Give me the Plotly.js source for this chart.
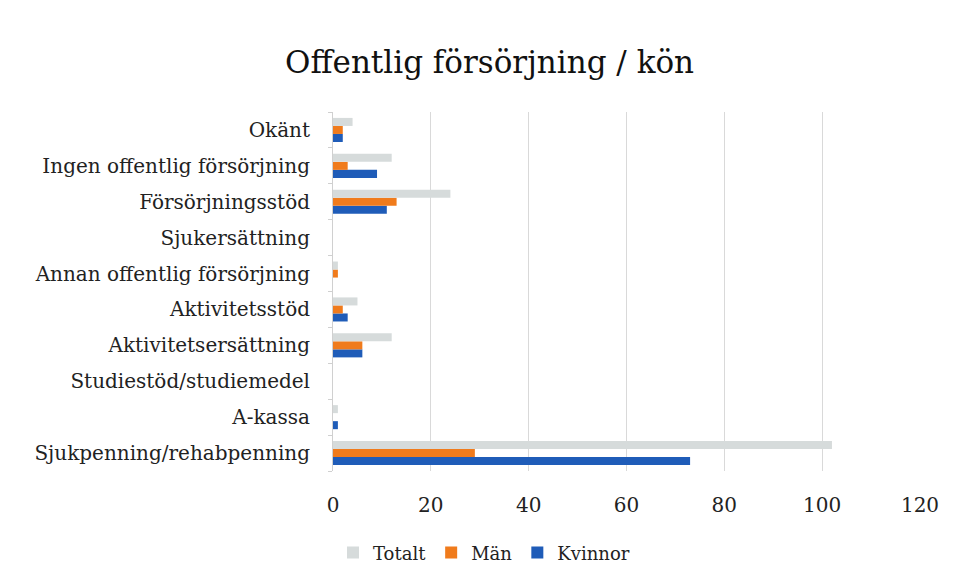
<!DOCTYPE html>
<html>
<head>
<meta charset="utf-8">
<script src="https://cdn.plot.ly/plotly-3.0.1.min.js"></script>
<style>html,body{margin:0;padding:0;background:#fff;}#chart{width:960px;height:584px;}</style>
</head>
<body>
<div id="chart"></div>
<script>
// Categories listed bottom to top
const categories = [
  "Sjukpenning/rehabpenning",
  "A-kassa",
  "Studiestöd/studiemedel",
  "Aktivitetsersättning",
  "Aktivitetsstöd",
  "Annan offentlig försörjning",
  "Sjukersättning",
  "Försörjningsstöd",
  "Ingen offentlig försörjning",
  "Okänt"
];
const totalt  = [102, 1, 0, 12, 5, 1, 0, 24, 12, 4];
const man     = [29, 0, 0, 6, 2, 1, 0, 13, 3, 2];
const kvinnor = [73, 1, 0, 6, 3, 0, 0, 11, 9, 2];
const xTicks = [0, 20, 40, 60, 80, 100, 120];

const font = "DejaVu Serif, Liberation Serif, serif";

const traces = [
  {type: "bar", orientation: "h", name: "Kvinnor", y: categories, x: kvinnor,
   marker: {color: "#1f5cb8"}},
  {type: "bar", orientation: "h", name: "Män", y: categories, x: man,
   marker: {color: "#f07b1c"}},
  {type: "bar", orientation: "h", name: "Totalt", y: categories, x: totalt,
   marker: {color: "#d6dbdb"}}
];

const layout = {
  width: 960, height: 584,
  margin: {l: 333, r: 40, t: 112, b: 113},
  paper_bgcolor: "#fff", plot_bgcolor: "#fff",
  font: {family: font, color: "#222", size: 18},
  title: {text: "Offentlig försörjning / kön", font: {family: font, size: 31, color: "#111"},
          x: 0.51, xanchor: "center", xref: "container", y: 0.894, yanchor: "middle", yref: "container"},
  barmode: "group",
  bargap: 0.33,
  bargroupgap: 0,
  showlegend: true,
  legend: {orientation: "h", traceorder: "reversed", x: 0, xanchor: "left", y: -0.228, yanchor: "middle",
           font: {family: font, size: 18, color: "#222"}, itemwidth: 30},
  xaxis: {range: [0, 120], tickvals: xTicks, ticktext: xTicks.map(String),
          showgrid: true, gridcolor: "#d9d9d9", gridwidth: 1, zeroline: false,
          showline: false, ticks: "", ticklabelstandoff: 20,
          tickfont: {family: font, size: 20, color: "#222"}, fixedrange: true},
  yaxis: {type: "category", categoryorder: "array", categoryarray: categories,
          showgrid: false, zeroline: false, showline: true, linecolor: "#d0d0d0", linewidth: 1,
          ticks: "outside", tickson: "boundaries", ticklen: 4, tickcolor: "#d0d0d0",
          ticklabelstandoff: 18,
          tickfont: {family: font, size: 20, color: "#222"}, fixedrange: true}
};

Plotly.newPlot("chart", traces, layout, {displayModeBar: false, staticPlot: true});
</script>
</body>
</html>
